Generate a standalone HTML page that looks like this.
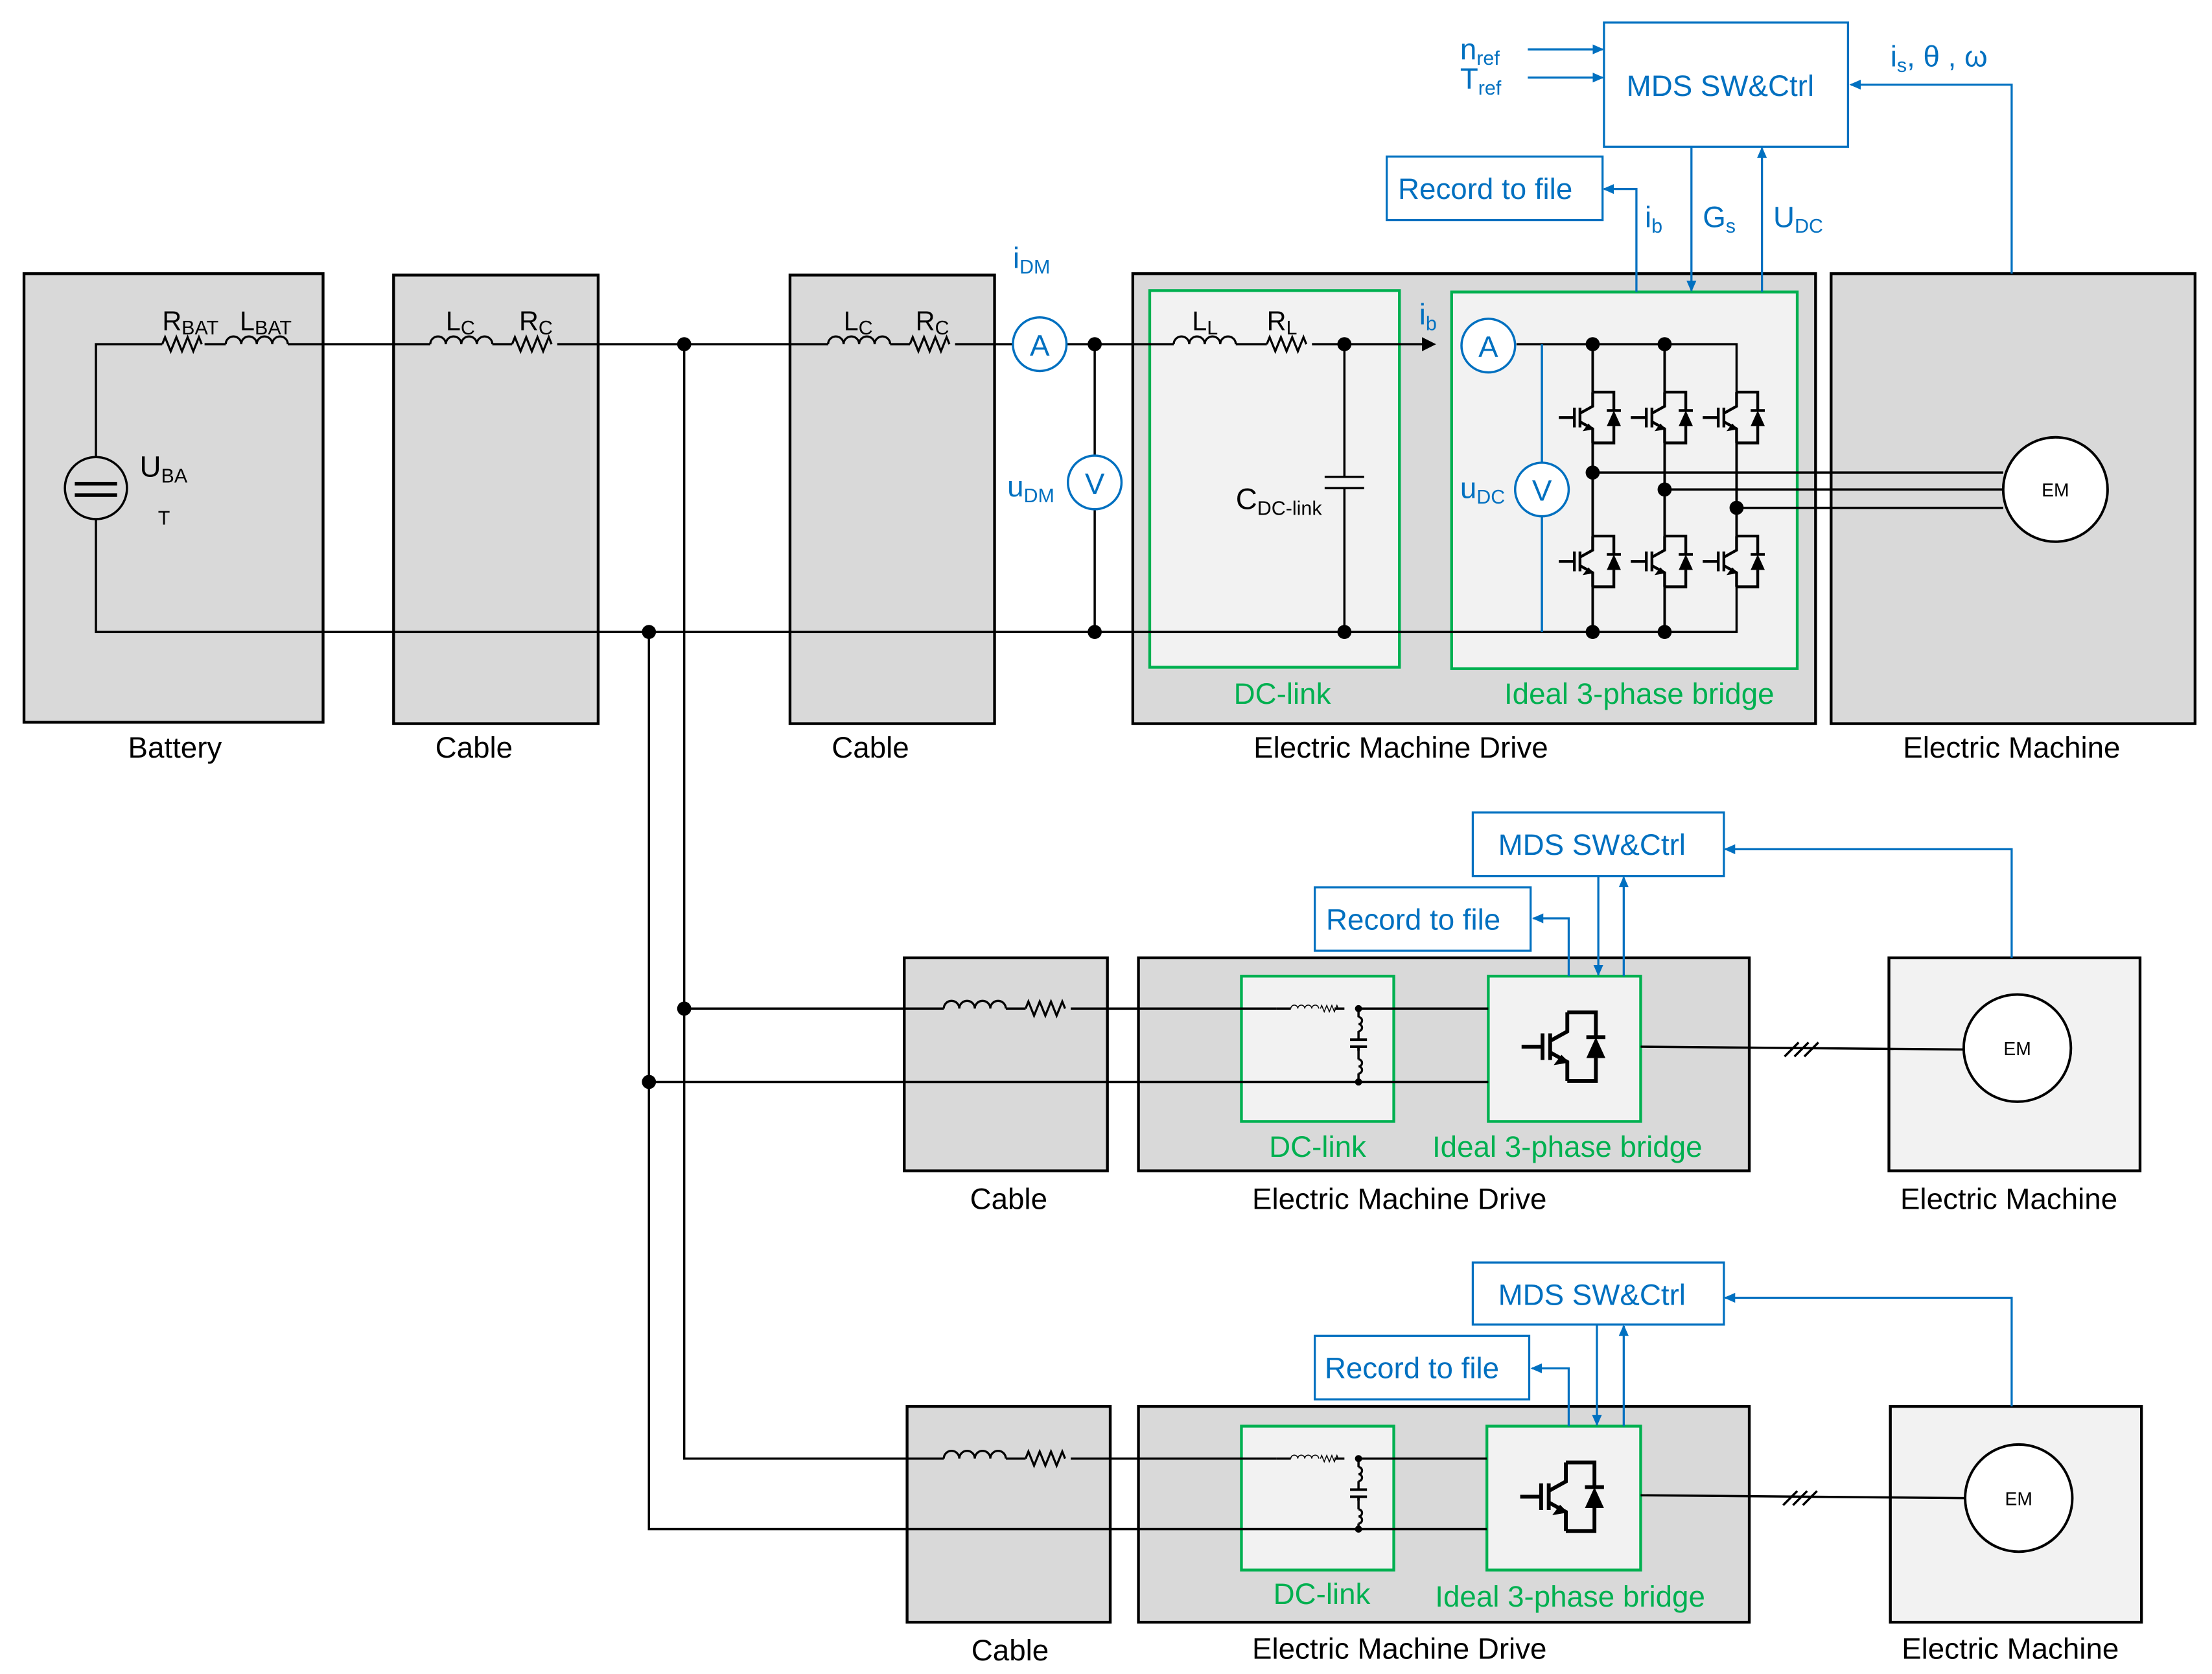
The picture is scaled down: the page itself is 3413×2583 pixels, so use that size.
<!DOCTYPE html>
<html><head><meta charset="utf-8"><style>
html,body{margin:0;padding:0;background:#fff;}
svg{display:block;}
text{font-family:"Liberation Sans",sans-serif;}
</style></head><body>
<svg width="3413" height="2583" viewBox="0 0 1568 1186.7" xmlns="http://www.w3.org/2000/svg">
<defs>
<marker id="ab" markerWidth="8" markerHeight="8" refX="7" refY="4" orient="auto" markerUnits="userSpaceOnUse"><path d="M0,0.5 L8,4 L0,7.5 z" fill="#0070c0"/></marker>
<g id="sw">
<path d="M0,-18 H15 V-5 M15,6 V18 H0" fill="none" stroke="#000" stroke-width="2"/>
<path d="M0,-18 V-8 L-9,-3 M-9,3 L0,8 V18" fill="none" stroke="#000" stroke-width="2"/>
<path d="M-3,5 L0,8 L-6,9 z" fill="#000" stroke="#000" stroke-width="1"/>
<path d="M-9,-7 V7 M-13,-7 V7 M-24,0 H-13" stroke="#000" stroke-width="2"/>
<polygon points="10,6 20,6 15,-5" fill="#000"/>
<path d="M10,-5 H20" stroke="#000" stroke-width="2"/>
</g>
<g id="rz"><path d="M0,0 l2,-5 l4,10 l4,-10 l4,10 l4,-10 l4,10 l4,-10 l2,5" fill="none" stroke="#000" stroke-width="1.5"/></g>
<g id="ind"><path d="M0,0 a5.5,5.5 0 0 1 11,0 a5.5,5.5 0 0 1 11,0 a5.5,5.5 0 0 1 11,0 a5.5,5.5 0 0 1 11,0" fill="none" stroke="#000" stroke-width="1.5"/></g>
<g id="dcs">
<path d="M0,0 H10 M41,0 H48" stroke="#000" stroke-width="1.6"/>
<g transform="translate(10,0) scale(0.45)"><use href="#ind"/></g>
<g transform="translate(31,0) scale(0.45)"><use href="#rz"/></g>
<path d="M58,0 V6 M58,16 V22 M58,30 V36 M58,46 V52" stroke="#000" stroke-width="1.6"/>
<path d="M58,6 a2.5,2.5 0 0 1 0,5 a2.5,2.5 0 0 1 0,5 M58,36 a2.5,2.5 0 0 1 0,5 a2.5,2.5 0 0 1 0,5" fill="none" stroke="#000" stroke-width="1.5"/>
<path d="M52,22 H64 M52,27 H64 M58,27 V30" stroke="#000" stroke-width="1.8"/>
</g>
</defs>
<g stroke="#000" stroke-width="2">
<rect x="17" y="194" width="212" height="318" fill="#d9d9d9"/>
<rect x="279" y="195" width="145" height="318" fill="#d9d9d9"/>
<rect x="560" y="195" width="145" height="318" fill="#d9d9d9"/>
<rect x="803" y="194" width="484" height="319" fill="#d9d9d9"/>
<rect x="1298" y="194" width="258" height="319" fill="#d9d9d9"/>
<rect x="641" y="679" width="144" height="151" fill="#d9d9d9"/>
<rect x="807" y="679" width="433" height="151" fill="#d9d9d9"/>
<rect x="1339" y="679" width="178" height="151" fill="#f2f2f2"/>
<rect x="643" y="997" width="144" height="153" fill="#d9d9d9"/>
<rect x="807" y="997" width="433" height="153" fill="#d9d9d9"/>
<rect x="1340" y="997" width="178" height="153" fill="#f2f2f2"/>
</g>
<g stroke="#00b050" stroke-width="2" fill="#f2f2f2">
<rect x="815" y="206" width="177" height="267"/>
<rect x="1029" y="207" width="245" height="267"/>
<rect x="880" y="692" width="108" height="103"/>
<rect x="1055" y="692" width="108" height="103"/>
<rect x="880" y="1011" width="108" height="102"/>
<rect x="1054" y="1011" width="109" height="102"/>
</g>
<g stroke="#0070c0" stroke-width="1.5" fill="#fff">
<rect x="1137" y="16" width="173" height="88"/>
<rect x="983" y="111" width="153" height="45"/>
<rect x="1044" y="576" width="178" height="45"/>
<rect x="932" y="629" width="153" height="45"/>
<rect x="1044" y="895" width="178" height="44"/>
<rect x="932" y="947" width="152" height="45"/>
</g>
<g stroke="#000" stroke-width="1.6" fill="none">
<path d="M68,324 V244 H115 M145,244 H160 M204,244 H305 M349,244 H363 M395,244 H587 M631,244 H645 M677,244 H718 M756,244 H832 M876,244 H898 M930,244 H1010"/>
<path d="M1075,244 H1231 V279"/>
<path d="M68,368 V448 H1231 V416"/>
<path d="M485,244 V1034 H669 M713,1034 H727 M759,1034 H905 M963,1034 H1054"/>
<path d="M460,448 V1084 H1054"/>
<path d="M485,715 H669 M713,715 H727 M759,715 H905 M963,715 H1055"/>
<path d="M460,767 H1055"/>
<path d="M776,244 V323 M776,361 V448"/>
<path d="M953,244 V338 M953,346 V448"/>
<path d="M939,338 H967 M939,346 H967"/>
<path d="M1129,335 H1420 M1180,347 H1420 M1231,360 H1420"/>
<path d="M1163,742 L1393,744 M1163,1060 L1393,1062"/>
<path d="M1265,749 l10,-10 M1272,749 l10,-10 M1279,749 l10,-10 M1264,1067 l10,-10 M1271,1067 l10,-10 M1278,1067 l10,-10"/>
<path d="M963,767 V767 M963,1084 V1084"/>
</g>
<use href="#dcs" x="905" y="715"/>
<use href="#dcs" x="905" y="1034"/>
<path d="M963,767 V767" stroke="#000"/>
<g stroke="#000" stroke-width="1.8" fill="none">
<path d="M1129,244 V278 M1129,314 V380 M1129,416 V448"/>
<path d="M1180,244 V278 M1180,314 V380 M1180,416 V448"/>
<path d="M1231,314 V380"/>
</g>
<use href="#sw" x="1129" y="296"/><use href="#sw" x="1180" y="296"/><use href="#sw" x="1231" y="296"/>
<use href="#sw" x="1129" y="398"/><use href="#sw" x="1180" y="398"/><use href="#sw" x="1231" y="398"/>
<g transform="translate(1111,742) scale(1.35)"><use href="#sw"/></g>
<g transform="translate(1110,1061) scale(1.35)"><use href="#sw"/></g>
<use href="#rz" x="115" y="244"/><use href="#ind" x="160" y="244"/>
<use href="#ind" x="305" y="244"/><use href="#rz" x="363" y="244"/>
<use href="#ind" x="587" y="244"/><use href="#rz" x="645" y="244"/>
<use href="#ind" x="832" y="244"/><use href="#rz" x="898" y="244"/>
<use href="#ind" x="669" y="715"/><use href="#rz" x="727" y="715"/>
<use href="#ind" x="669" y="1034"/><use href="#rz" x="727" y="1034"/>
<polygon points="1008,239 1018,244 1008,249" fill="#000"/>
<circle cx="68" cy="346" r="22" fill="none" stroke="#000" stroke-width="1.6"/>
<path d="M53,343 H83 M53,351 H83" stroke="#000" stroke-width="2.5"/>
<g fill="#000">
<circle cx="485" cy="244" r="5"/><circle cx="460" cy="448" r="5"/>
<circle cx="776" cy="244" r="5"/><circle cx="776" cy="448" r="5"/>
<circle cx="953" cy="244" r="5"/><circle cx="953" cy="448" r="5"/>
<circle cx="1129" cy="244" r="5"/><circle cx="1180" cy="244" r="5"/>
<circle cx="1129" cy="448" r="5"/><circle cx="1180" cy="448" r="5"/>
<circle cx="1129" cy="335" r="5"/><circle cx="1180" cy="347" r="5"/><circle cx="1231" cy="360" r="5"/>
<circle cx="485" cy="715" r="5"/><circle cx="460" cy="767" r="5"/>
<circle cx="963" cy="715" r="2.5"/><circle cx="963" cy="767" r="2.5"/>
<circle cx="963" cy="1034" r="2.5"/><circle cx="963" cy="1084" r="2.5"/>
</g>
<path d="M963,767 V767" />
<g fill="#fff" stroke="#000" stroke-width="1.8">
<circle cx="1457" cy="347" r="37"/><circle cx="1430" cy="743" r="38"/><circle cx="1431" cy="1062" r="38"/>
</g>
<g font-size="13" text-anchor="middle"><text x="1457" y="352">EM</text><text x="1430" y="748">EM</text><text x="1431" y="1067">EM</text></g>
<g stroke="#0070c0" stroke-width="1.6" fill="#fff">
<path d="M1093,244 V328 M1093,366 V448" fill="none"/>
<circle cx="737" cy="244" r="19"/><circle cx="776" cy="342" r="19"/>
<circle cx="1055" cy="245" r="19"/><circle cx="1093" cy="347" r="19"/>
</g>
<g fill="#0070c0" font-size="21" text-anchor="middle">
<text x="737" y="252">A</text><text x="776" y="350">V</text><text x="1055" y="253">A</text><text x="1093" y="355">V</text>
</g>
<g stroke="#0070c0" stroke-width="1.5" fill="none">
<path d="M1083,35 H1136" marker-end="url(#ab)"/>
<path d="M1083,55 H1136" marker-end="url(#ab)"/>
<path d="M1426,194 V60 H1312" marker-end="url(#ab)"/>
<path d="M1160,207 V134 H1137" marker-end="url(#ab)"/>
<path d="M1199,104 V206" marker-end="url(#ab)"/>
<path d="M1249,207 V105" marker-end="url(#ab)"/>
<path d="M1426,679 V602 H1223" marker-end="url(#ab)"/>
<path d="M1112,692 V651 H1087" marker-end="url(#ab)"/>
<path d="M1133,621 V691" marker-end="url(#ab)"/>
<path d="M1151,692 V622" marker-end="url(#ab)"/>
<path d="M1426,997 V920 H1223" marker-end="url(#ab)"/>
<path d="M1112,1011 V970 H1086" marker-end="url(#ab)"/>
<path d="M1132,939 V1010" marker-end="url(#ab)"/>
<path d="M1151,1011 V940" marker-end="url(#ab)"/>
</g>
<g fill="#0070c0" font-size="21">
<text x="1153" y="68">MDS SW&amp;Ctrl</text>
<text x="991" y="141">Record to file</text>
<text x="1062" y="606">MDS SW&amp;Ctrl</text>
<text x="940" y="659">Record to file</text>
<text x="1062" y="925">MDS SW&amp;Ctrl</text>
<text x="939" y="977">Record to file</text>
<text x="1035" y="42">n<tspan font-size="14" dy="4">ref</tspan></text>
<text x="1035" y="63">T<tspan font-size="14" dy="4">ref</tspan></text>
<text x="1340" y="47">i<tspan font-size="14" dy="4">s</tspan><tspan dy="-4">, θ , ω</tspan></text>
<text x="1166" y="161">i<tspan font-size="14" dy="4">b</tspan></text>
<text x="1207" y="161">G<tspan font-size="14" dy="4">s</tspan></text>
<text x="1257" y="161">U<tspan font-size="14" dy="4">DC</tspan></text>
<text x="718" y="190">i<tspan font-size="14" dy="4">DM</tspan></text>
<text x="1006" y="230">i<tspan font-size="14" dy="4">b</tspan></text>
<text x="714" y="352">u<tspan font-size="14" dy="4">DM</tspan></text>
<text x="1035" y="353">u<tspan font-size="14" dy="4">DC</tspan></text>
</g>
<g fill="#000" font-size="19">
<text x="115" y="234">R<tspan font-size="14" dy="3">BAT</tspan></text>
<text x="170" y="234">L<tspan font-size="14" dy="3">BAT</tspan></text>
<text x="316" y="234">L<tspan font-size="14" dy="3">C</tspan></text>
<text x="368" y="234">R<tspan font-size="14" dy="3">C</tspan></text>
<text x="598" y="234">L<tspan font-size="14" dy="3">C</tspan></text>
<text x="649" y="234">R<tspan font-size="14" dy="3">C</tspan></text>
<text x="845" y="234">L<tspan font-size="14" dy="3">L</tspan></text>
<text x="898" y="234">R<tspan font-size="14" dy="3">L</tspan></text>
<text x="99" y="338" font-size="21">U<tspan font-size="14" dy="4">BA</tspan></text>
<text x="112" y="372" font-size="14">T</text>
<text x="876" y="361" font-size="21">C<tspan font-size="14" dy="4">DC-link</tspan></text>
</g>
<g fill="#000" font-size="21" text-anchor="middle">
<text x="124" y="537">Battery</text>
<text x="336" y="537">Cable</text>
<text x="617" y="537">Cable</text>
<text x="993" y="537">Electric Machine Drive</text>
<text x="1426" y="537">Electric Machine</text>
<text x="715" y="857">Cable</text>
<text x="992" y="857">Electric Machine Drive</text>
<text x="1424" y="857">Electric Machine</text>
<text x="716" y="1177">Cable</text>
<text x="992" y="1176">Electric Machine Drive</text>
<text x="1425" y="1176">Electric Machine</text>
</g>
<g fill="#00b050" font-size="21" text-anchor="middle">
<text x="909" y="499">DC-link</text>
<text x="1162" y="499">Ideal 3-phase bridge</text>
<text x="934" y="820">DC-link</text>
<text x="1111" y="820">Ideal 3-phase bridge</text>
<text x="937" y="1137">DC-link</text>
<text x="1113" y="1139">Ideal 3-phase bridge</text>
</g>
</svg>
</body></html>
